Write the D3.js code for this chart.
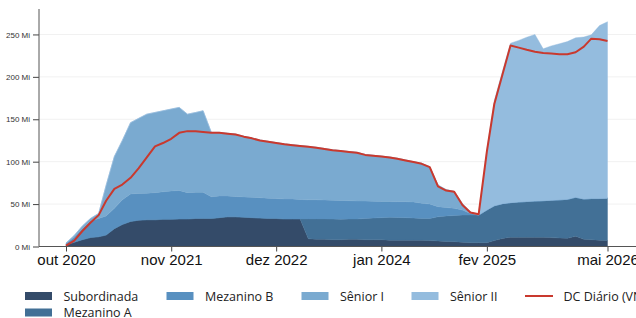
<!DOCTYPE html>
<html lang="pt">
<head>
<meta charset="utf-8">
<title>Saldo por classe</title>
<script src="https://cdn.jsdelivr.net/npm/d3@7/dist/d3.min.js"></script>
<style>
  body { margin: 0; background: #fff; overflow: hidden; }
  svg { display: block; font-family: "Open Sans", "Noto Sans", sans-serif; }
  .grid line { stroke: #f1f1f1; stroke-width: 1; }
  .yaxis text { font-size: 8px; fill: #333; }
  .xaxis text { font-size: 15px; fill: #111; }
  .legend text { font-size: 12.5px; fill: #222; }
</style>
</head>
<body>
<svg width="636" height="318"></svg>
<script>
// meses (out 2020 .. mai 2026)
var months = [
  "2020-10","2020-11","2020-12",
  "2021-01","2021-02","2021-03","2021-04","2021-05","2021-06","2021-07","2021-08","2021-09","2021-10","2021-11","2021-12",
  "2022-01","2022-02","2022-03","2022-04","2022-05","2022-06","2022-07","2022-08","2022-09","2022-10","2022-11","2022-12",
  "2023-01","2023-02","2023-03","2023-04","2023-05","2023-06","2023-07","2023-08","2023-09","2023-10","2023-11","2023-12",
  "2024-01","2024-02","2024-03","2024-04","2024-05","2024-06","2024-07","2024-08","2024-09","2024-10","2024-11","2024-12",
  "2025-01","2025-02","2025-03","2025-04","2025-05","2025-06","2025-07","2025-08","2025-09","2025-10","2025-11","2025-12",
  "2026-01","2026-02","2026-03","2026-04","2026-05"
];

// saldos em milhões
var subordinada = [2,5,8,10.5,11.5,13.5,21,26,29.5,31,31.5,31.5,32,32,32.5,32.5,33,33,33,34,35,35,34.5,34,33.5,33,33,32.5,32.5,32.5,
  9,8.5,8.5,8,8,8.5,8.5,8,8,8,7.5,7.5,7.5,7.5,7.5,7,6.5,6,5.7,5,4.5,4.5,4.5,7,9.5,11,11,11,11,11,10.5,10,9.6,12,8.5,8,7.5,7];
var mezaninoA = [0,0,0,0,0,0,0,0,0,0,0,0,0,0,0,0,0,0,0,0,0,0,0,0,0,0,0,0,0,0,
  23.5,24,24,24.3,24.2,23.9,23.9,25,25.5,26,26.9,26.7,26.5,26,25.5,26,28.5,30,30.8,32,32.5,32.5,38.5,41,41,40.7,41.5,42,42.6,43,44,45,46,46,47.5,48.5,49,50];
var mezaninoB = [1.5,6,13,19.5,21.5,22.5,24,29,32.5,31.5,31.3,32,32.5,33.5,33.5,31,31,31,25.7,25.5,24.5,24,24,24,24,24,23.5,23.5,23.5,23,
  22.5,22.5,22.3,22.2,22.1,21.6,21.2,20.5,19.8,19,18.6,18.6,18.8,19,18,17,12,10,8.5,6,2,0,0,0,0,0,0,0,0,0,0,0,0,0,0,0,0,0];
var seniorI = [0.5,2,3,3,6,36,61,70,84,88.5,93.2,94.5,95.5,96.5,98,92.5,94,96,75.8,75,74,73.5,71.5,70,68,67,66,65,64,63.5,
  63,62,60.7,59.5,58.7,58,57.4,55,54.2,53.5,52.5,51.2,49.2,47.5,47,44,25.5,21,20,7.5,1.5,0,0,0,0,0,0,0,0,0,0,0,0,0,0,0,0,0];
var seniorII = [0,0,0,0,0,0,0,0,0,0,0,0,0,0,0,0,0,0,0,0,0,0,0,0,0,0,0,0,0,0,
  0,0,0,0,0,0,0,0,0,0,0,0,0,0,0,0,0,0,0,0,0,1.5,71,124,156.5,188,190.5,193.7,196.4,179,182,184,186,188,191,193,204,208];
var dcDiario = [1,7,18,28,37,54,68,73,81,92,105,118,122,127,134,136,136,135,134,134,133,132,129.5,127.5,125,123.5,122,120.5,119.5,118.5,
  117.5,116.5,115,113.5,112.5,111.5,110.5,108,107,106,105,103.5,101.5,99.5,97.5,93.5,71,66,64.5,49,40,38,112,168,203,237,234.5,232,229.7,228,227.4,226.6,226.6,229,235.6,245,244.3,242.3];

var seriesNames = ["Subordinada","Mezanino A","Mezanino B","Sênior I","Sênior II"];
var seriesColors = ["#344b69","#427096","#5890c0","#7aaad0","#94bcde"];
var lineName = "DC Diário (VNA)";
var lineColor = "#c9392e";

var xTicks = ["2020-10","2021-11","2022-12","2024-01","2025-02","2026-05"];
var xTickLabels = ["out 2020","nov 2021","dez 2022","jan 2024","fev 2025","mai 2026"];
var yTicks = [0,50,100,150,200,250];

var parse = d3.timeParse("%Y-%m");
var dates = months.map(parse);
var cols = [subordinada, mezaninoA, mezaninoB, seniorI, seniorII];
var rows = dates.map(function(d, i) {
  var r = {date: d};
  seriesNames.forEach(function(k, j) { r[k] = cols[j][i]; });
  return r;
});

var svg = d3.select("svg");
var plotLeft = 39, plotBottom = 246.5, plotTop = 9;

var x = d3.scaleTime()
  .domain([dates[0], dates[dates.length - 1]])
  .range([66, 607.5]);
var y = d3.scaleLinear().domain([0, 280]).range([plotBottom, plotTop]);

// grade
svg.append("g").attr("class", "grid")
  .selectAll("line").data(yTicks.slice(1)).enter().append("line")
  .attr("x1", plotLeft).attr("x2", 640)
  .attr("y1", function(d) { return y(d); })
  .attr("y2", function(d) { return y(d); });

var stacked = d3.stack().keys(seriesNames)(rows);
var area = d3.area()
  .x(function(d) { return x(d.data.date); })
  .y0(function(d) { return y(d[0]); })
  .y1(function(d) { return y(d[1]); });

svg.append("g").selectAll("path").data(stacked).enter().append("path")
  .attr("d", area)
  .attr("fill", function(d, i) { return seriesColors[i]; })
  .attr("stroke", function(d, i) { return seriesColors[i]; })
  .attr("stroke-width", 0.4);

var line = d3.line()
  .x(function(d, i) { return x(dates[i]); })
  .y(function(d) { return y(d); });

svg.append("path").datum(dcDiario)
  .attr("d", line)
  .attr("fill", "none")
  .attr("stroke", lineColor)
  .attr("stroke-width", 2)
  .attr("stroke-linejoin", "round");

// eixos
var yAxis = d3.axisLeft(y).tickValues(yTicks)
  .tickFormat(function(d) { return d + " Mi"; })
  .tickSize(6).tickSizeOuter(0).tickPadding(3);
var gy = svg.append("g").attr("class", "yaxis")
  .attr("transform", "translate(" + plotLeft + ",0)").call(yAxis);
gy.select(".domain").remove();
gy.selectAll(".tick line").attr("stroke", "#444");

var xAxis = d3.axisBottom(x).tickValues(xTicks.map(parse))
  .tickFormat(function(d, i) { return xTickLabels[i]; })
  .tickSize(5).tickSizeOuter(0).tickPadding(3);
var gx = svg.append("g").attr("class", "xaxis")
  .attr("transform", "translate(0," + plotBottom + ")").call(xAxis);
gx.select(".domain").remove();
gx.selectAll(".tick line").attr("stroke", "#444");

svg.append("line").attr("x1", plotLeft).attr("x2", 640)
  .attr("y1", plotBottom).attr("y2", plotBottom).attr("stroke", "#555").attr("stroke-width", 1);
svg.append("line").attr("x1", plotLeft).attr("x2", plotLeft)
  .attr("y1", plotTop).attr("y2", plotBottom).attr("stroke", "#555").attr("stroke-width", 1);

// legenda
var legendItems = [
  {name: seriesNames[0], color: seriesColors[0], x: 25, y: 296},
  {name: seriesNames[1], color: seriesColors[1], x: 25, y: 312.5},
  {name: seriesNames[2], color: seriesColors[2], x: 166.5, y: 296},
  {name: seriesNames[3], color: seriesColors[3], x: 301.5, y: 296},
  {name: seriesNames[4], color: seriesColors[4], x: 411.5, y: 296},
  {name: lineName, color: lineColor, x: 525, y: 296, line: true}
];
var lg = svg.append("g").attr("class", "legend")
  .selectAll("g").data(legendItems).enter().append("g")
  .attr("transform", function(d) { return "translate(" + d.x + "," + d.y + ")"; });
lg.each(function(d) {
  var g = d3.select(this);
  if (d.line) {
    g.append("line").attr("x1", 0).attr("x2", 28).attr("y1", 0).attr("y2", 0)
      .attr("stroke", d.color).attr("stroke-width", 2);
  } else {
    g.append("rect").attr("x", 0).attr("y", -4).attr("width", 27).attr("height", 8)
      .attr("fill", d.color);
  }
  g.append("text").attr("x", 38.5).attr("y", 4.6).text(d.name);
});
</script>
</body>
</html>
